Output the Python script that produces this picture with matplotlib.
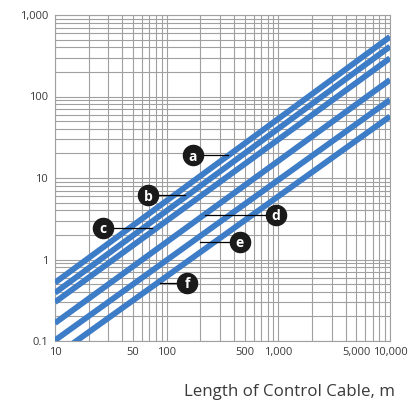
import matplotlib
matplotlib.use('Agg')
import matplotlib.pyplot as plt
from matplotlib.ticker import FixedLocator, LogLocator, NullFormatter

plt.rcParams['font.family'] = ['Open Sans', 'DejaVu Sans']

# cable length (m) at the two ends of each line
lengths = [10, 10000]
# value read at 10 m and at 10,000 m for every line
line_a = [0.52, 540]
line_b = [0.39, 410]
line_c = [0.30, 295]
line_d = [0.166, 160]
line_e = [0.102, 91]
line_f = [0.065, 57]
series = {'a': line_a, 'b': line_b, 'c': line_c, 'd': line_d, 'e': line_e, 'f': line_f}

# label circle (x, y) and where the leader meets the line (x), data coords
label_pos = {
    'a': (172, 19.1, 354),
    'b': (68, 6.18, 146),
    'c': (26.9, 2.44, 73.8),
    'd': (951, 3.52, 220),
    'e': (453, 1.64, 198.6),
    'f': (152, 0.515, 87),
}

x_ticks = [10, 50, 100, 500, 1000, 5000, 10000]
x_ticklabels = ['10', '50', '100', '500', '1,000', '5,000', '10,000']
y_ticks = [0.1, 1, 10, 100, 1000]
y_ticklabels = ['0.1', '1', '10', '100', '1,000']

blue = '#3d7cc7'
grid_c = '#a0a0a0'
text_c = '#3a3a3a'

fig = plt.figure(figsize=(4.11, 4.03), dpi=100)
ax = fig.add_axes([55 / 411, 62 / 403, 335 / 411, 326 / 403])
ax.set_xscale('log')
ax.set_yscale('log')
ax.set_xlim(10, 10000)
ax.set_ylim(0.1, 1000)

ax.xaxis.set_major_locator(FixedLocator(x_ticks))
ax.xaxis.set_minor_locator(LogLocator(base=10, subs=range(1, 10), numticks=20))
ax.yaxis.set_major_locator(FixedLocator(y_ticks))
ax.yaxis.set_minor_locator(LogLocator(base=10, subs=range(1, 10), numticks=20))
ax.set_xticklabels(x_ticklabels)
ax.set_yticklabels(y_ticklabels)
ax.xaxis.set_minor_formatter(NullFormatter())
ax.yaxis.set_minor_formatter(NullFormatter())
ax.tick_params(which='both', length=0, labelsize=8, colors=text_c)
ax.tick_params(axis='x', pad=4)
ax.tick_params(axis='y', pad=5)

ax.grid(True, which='both', color=grid_c, linewidth=0.8)
ax.set_axisbelow(True)
for s in ax.spines.values():
    s.set_color(grid_c)
    s.set_linewidth(0.8)

for name, vals in series.items():
    ax.plot(lengths, vals, color=blue, linewidth=4.2, solid_capstyle='butt', zorder=3)

for name, (lx, ly, ex) in label_pos.items():
    ax.plot([lx, ex], [ly, ly], color='black', linewidth=0.9, zorder=4)
    ax.plot(lx, ly, 'o', color='#1a1a1a', markersize=14.5, zorder=5)
    ax.text(lx, ly, name, color='white', fontsize=10, fontweight='bold',
            ha='center', va='center_baseline', zorder=6)

fig.text(395 / 411, 1 - 392 / 403, 'Length of Control Cable, m', ha='right', va='center',
         fontsize=12.2, color=text_c)

fig.savefig('out.png', dpi=100)
